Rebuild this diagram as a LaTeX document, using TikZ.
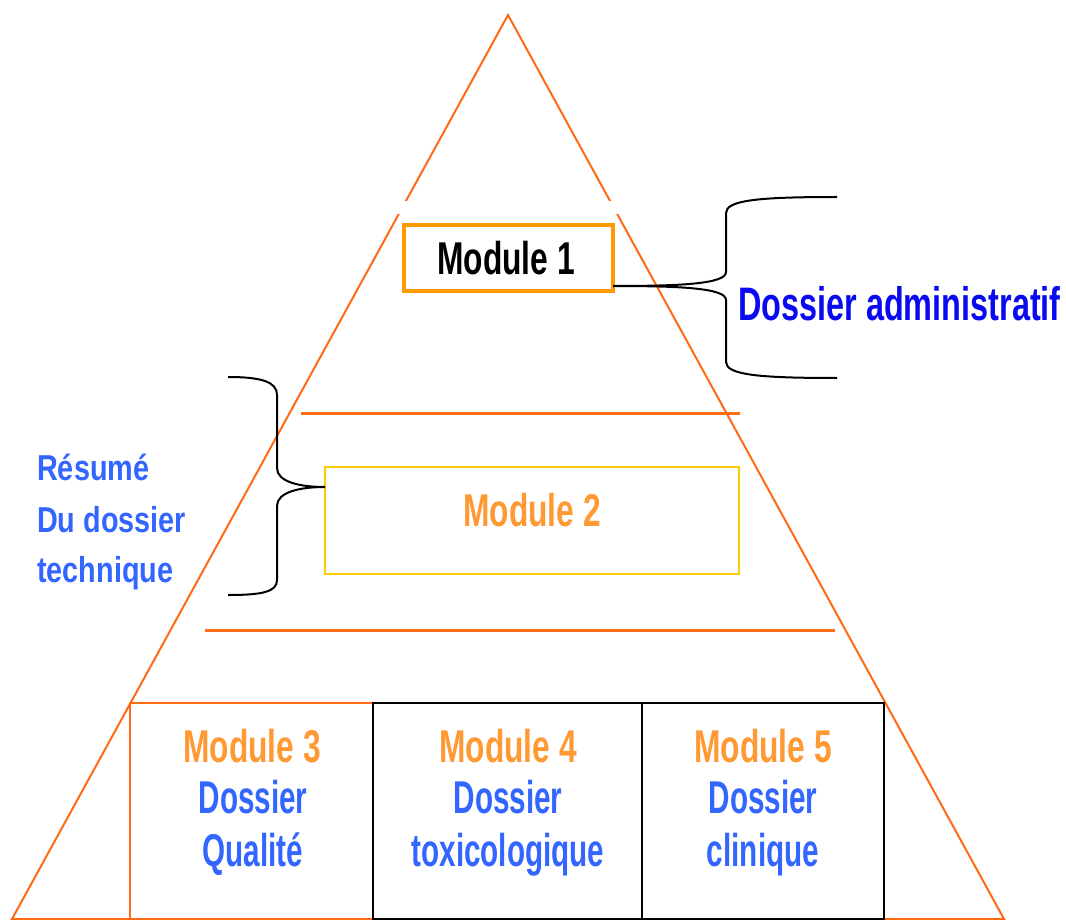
\documentclass[tikz,border=0pt]{standalone}
\usepackage{fontspec}
\setmainfont{Liberation Sans}[FakeStretch=0.69]
\newfontfamily\leftfont{Liberation Sans}[FakeStretch=0.8]
\newfontfamily\dosfont{Liberation Sans}[FakeStretch=0.645]
\definecolor{pyr}{HTML}{FF6A13}
\definecolor{mone}{HTML}{FF9900}
\definecolor{mtwo}{HTML}{FFCC00}
\definecolor{modtxt}{HTML}{FF9933}
\definecolor{bluetxt}{HTML}{3366FF}
\definecolor{admtxt}{HTML}{0A0AF0}
\begin{document}
\begin{tikzpicture}[x=1pt,y=-1pt,
  pyrline/.style={draw=pyr,line width=2pt},
  hline/.style={draw=pyr,line width=3pt},
  boxnode/.style={rectangle,inner sep=0pt,outer sep=0pt},
  modlabel/.style={font=\bfseries\fontsize{46}{52}\selectfont,text=modtxt,anchor=base,inner sep=0pt},
  doslabel/.style={font=\dosfont\bfseries\fontsize{46}{52}\selectfont,text=bluetxt,anchor=base,inner sep=0pt},
  leftlabel/.style={font=\leftfont\bfseries\fontsize{36}{51}\selectfont,text=bluetxt,anchor=base west,inner sep=0pt},
  bracestyle/.style={draw=black,line width=2pt}
]
\useasboundingbox (0,0) rectangle (1066,920);
\fill[white] (0,0) rectangle (1066,920);

% pyramid
\coordinate (apex) at (508,15);
\coordinate (bl) at (12,919);
\coordinate (br) at (1004,919);
\draw[pyrline] (bl) -- (apex) -- (br) -- cycle;
\fill[white] (380,201) rectangle (640,214);

% horizontal lines
\coordinate (h1a) at (301,413); \coordinate (h1b) at (740,413);
\coordinate (h2a) at (205,630); \coordinate (h2b) at (835,630);
\draw[hline] (h1a) -- (h1b);
\draw[hline] (h2a) -- (h2b);

% module 1
\node[boxnode,draw=mone,line width=4.5pt,fill=white,minimum width=209pt,minimum height=66pt] (m1) at (508.5,258) {};
\node[font=\bfseries\fontsize{46}{52}\selectfont,anchor=base,inner sep=0pt] (m1t) at (506,275) {Module 1};

% module 2
\node[boxnode,draw=mtwo,line width=1.6pt,minimum width=414pt,minimum height=107pt] (m2) at (532,520.5) {};
\node[modlabel] (m2t) at (532,526) {Module 2};

% bottom boxes
\node[boxnode,draw=pyr,line width=2pt,minimum width=243pt,minimum height=216pt] (b3) at (251.5,811) {};
\node[boxnode,draw=black,line width=2pt,minimum width=269pt,minimum height=216pt] (b4) at (507.5,811) {};
\node[boxnode,draw=black,line width=2pt,minimum width=242pt,minimum height=216pt] (b5) at (763,811) {};

\node[modlabel] (b3a) at (252,762) {Module 3};
\node[doslabel] (b3b) at (253,813) {Dossier};
\node[doslabel] (b3c) at (253,866) {Qualité};

\node[modlabel] (b4a) at (508,762) {Module 4};
\node[doslabel] (b4b) at (508,813) {Dossier};
\node[doslabel] (b4c) at (508,866) {toxicologique};

\node[modlabel] (b5a) at (763,762) {Module 5};
\node[doslabel] (b5b) at (763,813) {Dossier};
\node[doslabel] (b5c) at (763,866) {clinique};

% right brace
\coordinate (rt) at (837,197);
\coordinate (rb) at (837,378);
\coordinate (rtip) at (m1.east |- 0,286);
\draw[bracestyle] (rt) .. controls (760,197) and (726,200) .. (726,213) -- (726,272)
   .. controls (726,284) and (680,286) .. (rtip);
\draw[bracestyle] (rtip) .. controls (680,286) and (726,288) .. (726,300) -- (726,362)
   .. controls (726,375) and (760,378) .. (rb);
\node[font=\bfseries\fontsize{47}{52}\selectfont,text=admtxt,anchor=base west,inner sep=0pt] (adm) at (738,320) {Dossier administratif};

% left brace
\coordinate (lt) at (228,377);
\coordinate (lb) at (228,595);
\coordinate (ltip) at (m2.west |- 0,487);
\draw[bracestyle] (lt) .. controls (262,377) and (277,382) .. (277,395) -- (277,468)
   .. controls (277,482) and (300,487) .. (ltip);
\draw[bracestyle] (ltip) .. controls (300,487) and (277,492) .. (277,506) -- (277,580)
   .. controls (277,592) and (262,595) .. (lb);
\node[leftlabel] (r1) at (37,480) {Résumé};
\node[leftlabel] (r2) at (37,532) {Du dossier};
\node[leftlabel] (r3) at (37,582) {technique};
\end{tikzpicture}
\end{document}
